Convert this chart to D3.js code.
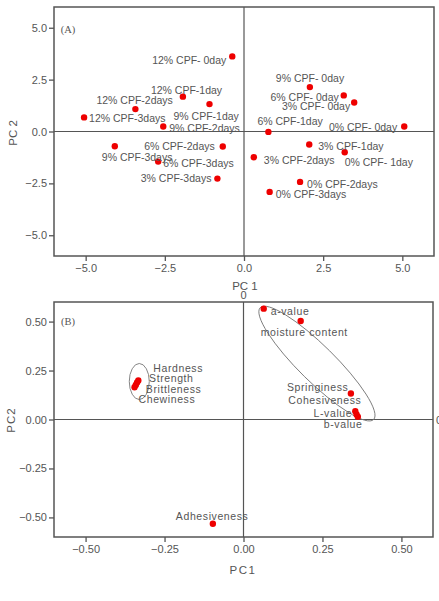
<!DOCTYPE html>
<html>
<head>
<meta charset="utf-8">
<script src="https://cdn.jsdelivr.net/npm/d3@7"></script>
<style>
  body { margin: 0; background: #fff; }
  svg { display: block; font-family: "Liberation Sans", Arial, sans-serif; }
</style>
</head>
<body>
<svg id="chart" width="439" height="601"></svg>
<script>
// (A) sample scores
const sampleNames = ["12% CPF- 0day", "12% CPF-1day", "9% CPF-1day", "12% CPF-2days", "12% CPF-3days",
  "9% CPF-2days", "9% CPF- 0day", "6% CPF- 0day", "3% CPF- 0day", "6% CPF-1day",
  "0% CPF- 0day", "6% CPF-2days", "9% CPF-3days", "6% CPF-3days", "3% CPF-3days",
  "3% CPF-1day", "0% CPF- 1day", "3% CPF-2days", "0% CPF-2days", "0% CPF-3days"];
const samplePC1 = [-0.37, -1.93, -1.09, -3.43, -5.05, -2.55, 2.08, 3.15, 3.48, 0.77,
  5.06, -0.67, -4.08, -2.71, -0.84, 2.06, 3.18, 0.31, 1.77, 0.81];
const samplePC2 = [3.62, 1.68, 1.32, 1.08, 0.68, 0.24, 2.14, 1.74, 1.40, -0.02,
  0.24, -0.72, -0.71, -1.45, -2.27, -0.63, -1.00, -1.24, -2.43, -2.91];

// (B) variable loadings
const varNames = ["a-value", "moisture content", "Springiness", "Cohesiveness", "L-value", "b-value",
  "Hardness", "Strength", "Brittleness", "Chewiness", "Adhesiveness"];
const varPC1 = [0.064, 0.181, 0.340, 0.354, 0.358, 0.362, -0.333, -0.337, -0.341, -0.345, -0.097];
const varPC2 = [0.566, 0.503, 0.133, 0.042, 0.026, 0.014, 0.199, 0.189, 0.176, 0.165, -0.532];

// groups circled in (B): major axis end points
const groupAxisX = [[0.053, 0.412], [-0.330, -0.330]];
const groupAxisY = [[0.571, 0.0], [0.286, 0.102]];

const ticksA = [-5, -2.5, 0, 2.5, 5];
const ticksB = [-0.5, -0.25, 0, 0.25, 0.5];

// label placement (px offsets from point)
const sampleLabelPos = [[-6, 4, "end"], [-32, -7, "start"], [-36, 12, "start"], [-39, -9, "start"], [5, 1, "start"],
  [6, 1, "start"], [-34, -9, "start"], [-5, 2, "end"], [-4, 4, "end"], [-11, -11, "start"],
  [-7, 0, "end"], [-8, 0, "end"], [-13, 11, "start"], [5, 1, "start"], [-6, -1, "end"],
  [9, 1, "start"], [0, 10, "start"], [10, 3, "start"], [7, 2, "start"], [6, 2, "start"]];
const varLabelPos = [[7, 2], [-40, 11], [-64, -6], [-67, -11], [-43, -1], [-34, 7],
  [15, -13], [12, -4], [10, 4], [4, 12], [-37, -8]];
const groupMinor = [18, 10];

const grey = "#555";
const svg = d3.select("#chart");

function panel(box, domain, ticks, fmt) {
  const x = d3.scaleLinear().domain(domain).range([box.left, box.right]);
  const y = d3.scaleLinear().domain(domain).range([box.bottom, box.top]);

  const g = svg.append("g");
  g.append("line")
    .attr("x1", x(0)).attr("x2", x(0)).attr("y1", box.top).attr("y2", box.bottom)
    .attr("stroke", grey).attr("stroke-width", 1.2);
  g.append("line")
    .attr("x1", box.left).attr("x2", box.right).attr("y1", y(0)).attr("y2", y(0))
    .attr("stroke", grey).attr("stroke-width", 1.2);
  g.append("rect")
    .attr("x", box.left).attr("y", box.top)
    .attr("width", box.right - box.left).attr("height", box.bottom - box.top)
    .attr("fill", "none").attr("stroke", grey).attr("stroke-width", 1.5);

  const ax = g.append("g")
    .attr("transform", `translate(0,${box.bottom})`)
    .call(d3.axisBottom(x).tickValues(ticks).tickFormat(d3.format(fmt)).tickSize(5).tickSizeOuter(0));
  const ay = g.append("g")
    .attr("transform", `translate(${box.left},0)`)
    .call(d3.axisLeft(y).tickValues(ticks).tickFormat(d3.format(fmt)).tickSize(5).tickSizeOuter(0));
  [ax, ay].forEach(a => {
    a.select(".domain").remove();
    a.selectAll("line").attr("stroke", grey).attr("stroke-width", 1.3);
    a.selectAll("text").attr("fill", grey).style("font-size", "11px");
  });
  ay.selectAll("text").attr("x", -7);
  ax.selectAll("text").attr("y", 8);
  return {x, y, g};
}

// ---- panel A ----
const A = panel({left: 54, right: 434, top: 7, bottom: 256}, [-6, 6], ticksA, ".1f");

A.g.append("text").attr("x", 68).attr("y", 29).attr("text-anchor", "middle")
  .attr("dominant-baseline", "central").attr("fill", grey)
  .style("font-family", "'Liberation Serif', serif").style("font-size", "10.5px").text("(A)");

A.g.selectAll(".pt").data(sampleNames).enter().append("circle")
  .attr("cx", (d, i) => A.x(samplePC1[i]))
  .attr("cy", (d, i) => A.y(samplePC2[i]))
  .attr("r", 3.2).attr("fill", "#ee0000");

A.g.selectAll(".lab").data(sampleNames).enter().append("text")
  .attr("x", (d, i) => A.x(samplePC1[i]) + sampleLabelPos[i][0])
  .attr("y", (d, i) => A.y(samplePC2[i]) + sampleLabelPos[i][1])
  .attr("text-anchor", (d, i) => sampleLabelPos[i][2])
  .attr("dominant-baseline", "central")
  .attr("fill", grey).style("font-size", "10.5px")
  .text(d => d);

svg.append("text").attr("x", 245).attr("y", 286).attr("text-anchor", "middle")
  .attr("dominant-baseline", "central").attr("fill", grey).style("font-size", "11.5px").text("PC 1");
svg.append("text").attr("transform", "translate(13,133) rotate(-90)").attr("text-anchor", "middle")
  .attr("dominant-baseline", "central").attr("fill", grey).style("font-size", "11.5px").text("PC 2");

// ---- panel B ----
const B = panel({left: 54, right: 433, top: 302, bottom: 537}, [-0.6, 0.6], ticksB, ".2f");

B.g.append("text").attr("x", 68).attr("y", 321).attr("text-anchor", "middle")
  .attr("dominant-baseline", "central").attr("fill", grey)
  .style("font-family", "'Liberation Serif', serif").style("font-size", "10.5px").text("(B)");

// zero labels
svg.append("text").attr("x", B.x(0)).attr("y", 295).attr("text-anchor", "middle")
  .attr("dominant-baseline", "central").attr("fill", grey).style("font-size", "11px").text("0");
svg.append("text").attr("x", 436).attr("y", B.y(0)).attr("text-anchor", "start")
  .attr("dominant-baseline", "central").attr("fill", grey).style("font-size", "11px").text("0");

// group ellipses
groupAxisX.forEach((gx, i) => {
  const x1 = B.x(gx[0]), x2 = B.x(gx[1]);
  const y1 = B.y(groupAxisY[i][0]), y2 = B.y(groupAxisY[i][1]);
  const cx = (x1 + x2) / 2, cy = (y1 + y2) / 2;
  const rx = Math.hypot(x2 - x1, y2 - y1) / 2;
  const ang = Math.atan2(y2 - y1, x2 - x1) * 180 / Math.PI;
  B.g.append("ellipse")
    .attr("cx", 0).attr("cy", 0).attr("rx", rx).attr("ry", groupMinor[i])
    .attr("transform", `translate(${cx},${cy}) rotate(${ang})`)
    .attr("fill", "none").attr("stroke", "#777").attr("stroke-width", 0.9);
});

B.g.selectAll(".pt").data(varNames).enter().append("circle")
  .attr("cx", (d, i) => B.x(varPC1[i]))
  .attr("cy", (d, i) => B.y(varPC2[i]))
  .attr("r", 3.2).attr("fill", "#ee0000");

B.g.selectAll(".lab").data(varNames).enter().append("text")
  .attr("x", (d, i) => B.x(varPC1[i]) + varLabelPos[i][0])
  .attr("y", (d, i) => B.y(varPC2[i]) + varLabelPos[i][1])
  .attr("dominant-baseline", "central")
  .attr("fill", grey).style("font-size", "10.5px").style("letter-spacing", "0.6px")
  .text(d => d);

svg.append("text").attr("x", 243).attr("y", 570).attr("text-anchor", "middle")
  .attr("dominant-baseline", "central").attr("fill", grey).style("font-size", "11.5px")
  .style("letter-spacing", "1.5px").text("PC1");
svg.append("text").attr("transform", "translate(11,420) rotate(-90)").attr("text-anchor", "middle")
  .attr("dominant-baseline", "central").attr("fill", grey).style("font-size", "11.5px")
  .style("letter-spacing", "1px").text("PC2");
</script>
</body>
</html>
